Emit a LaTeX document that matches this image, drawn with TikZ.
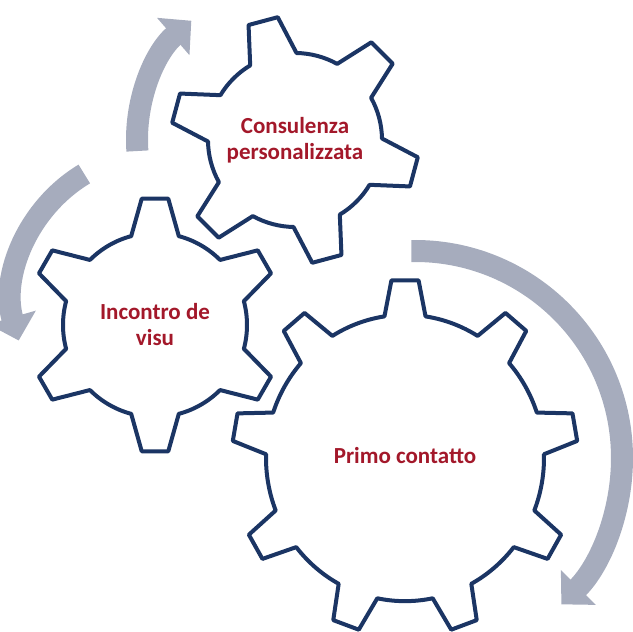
\documentclass[tikz,border=0pt]{standalone}
\usepackage{fontspec}
\setmainfont{Carlito}
\usetikzlibrary{arrows.meta}
\definecolor{gearblue}{HTML}{1B3564}
\definecolor{labelred}{HTML}{A3182A}
\definecolor{flowgray}{HTML}{A6ACBD}
\tikzset{gear/.style={draw=gearblue,line width=2pt,fill=white,line join=round}}

\begin{document}
\begin{tikzpicture}[x=0.5pt,y=0.5pt]
    \useasboundingbox (0,0) rectangle (633,632);
    \begin{scope}[>={Triangle[width=24pt,length=12pt]},
        every path/.style={draw=flowgray,line width=11pt}]
        \coordinate (flowA) at ([shift={(295,492)}]184:158);
        \coordinate (flowB) at ([shift={(160,332)}]121:147);
        \coordinate (flowC) at ([shift={(415,174)}]91:207);
        \draw[->] (flowA) arc[start angle=184, end angle=131, radius=158];
        \draw[->] (flowB) arc[start angle=121, end angle=196, radius=147];
        \draw[->] (flowC) arc[start angle=91, end angle=-45, radius=207];
    \end{scope}

    % gears
    \draw[gear, shift={(405,174)}, yscale=1.03] (1.5:139)
        \foreach \a in {10,50,...,330} {
            -- (\a-4.5:173) -- (\a+4.5:173) -- (\a+8.5:139)
            arc[start angle=\a+8.5, end angle=\a+31.5, radius=139]
        } -- cycle;
    \draw[gear, shift={(155,307)}] (15:92)
        \foreach \a in {30,90,...,330} {
            -- (\a-6:127) -- (\a+6:127) -- (\a+15:92)
            arc[start angle=\a+15, end angle=\a+45, radius=92]
        } -- cycle;
    \draw[gear, shift={(295,492)}] (29:87)
        \foreach \a in {45,105,...,345} {
            -- (\a-7:124) -- (\a+7:124) -- (\a+16:87)
            arc[start angle=\a+16, end angle=\a+44, radius=87]
        } -- cycle;

    \begin{scope}[every node/.style={text=labelred,align=center,
        font=\bfseries\fontsize{11.5}{13}\selectfont}]
        \node (primo) at (405,176) {Primo contatto};
        \node (consulenza) at (295,492) {Consulenza\\personalizzata};
        \node (incontro) at (155,307) {Incontro de\\visu};
    \end{scope}
\end{tikzpicture}
\end{document}
